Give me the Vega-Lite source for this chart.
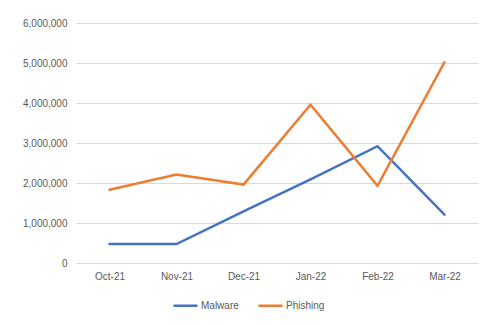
{
  "$schema": "https://vega.github.io/schema/vega-lite/v6.json",
  "autosize": "none",
  "width": 402,
  "height": 240,
  "padding": {"left": 76, "top": 23, "right": 2, "bottom": 62},
  "background": "white",
  "data": {
    "values": [
      {"month": "Oct-21", "series": "Malware", "value": 475000},
      {"month": "Nov-21", "series": "Malware", "value": 475000},
      {"month": "Dec-21", "series": "Malware", "value": 1290000},
      {"month": "Jan-22", "series": "Malware", "value": 2090000},
      {"month": "Feb-22", "series": "Malware", "value": 2920000},
      {"month": "Mar-22", "series": "Malware", "value": 1210000},
      {"month": "Oct-21", "series": "Phishing", "value": 1830000},
      {"month": "Nov-21", "series": "Phishing", "value": 2210000},
      {"month": "Dec-21", "series": "Phishing", "value": 1960000},
      {"month": "Jan-22", "series": "Phishing", "value": 3960000},
      {"month": "Feb-22", "series": "Phishing", "value": 1930000},
      {"month": "Mar-22", "series": "Phishing", "value": 5020000}
    ]
  },
  "mark": {"type": "line", "strokeWidth": 2.5, "strokeJoin": "miter", "strokeCap": "round"},
  "encoding": {
    "x": {
      "field": "month",
      "type": "ordinal",
      "sort": ["Oct-21", "Nov-21", "Dec-21", "Jan-22", "Feb-22", "Mar-22"],
      "scale": {"type": "point", "padding": 0.5},
      "axis": {
        "title": null,
        "labelAngle": 0,
        "ticks": false,
        "domain": false,
        "grid": false,
        "labelPadding": 8,
        "labelFont": "Liberation Sans",
        "labelFontSize": 10,
        "labelColor": "#595959"
      }
    },
    "y": {
      "field": "value",
      "type": "quantitative",
      "scale": {"domain": [0, 6000000], "nice": false},
      "axis": {
        "title": null,
        "values": [0, 1000000, 2000000, 3000000, 4000000, 5000000, 6000000],
        "format": ",d",
        "ticks": false,
        "domain": false,
        "gridColor": "#D9D9D9",
        "gridWidth": 1,
        "labelPadding": 9,
        "labelFont": "Liberation Sans",
        "labelFontSize": 10,
        "labelColor": "#595959"
      }
    },
    "color": {
      "field": "series",
      "type": "nominal",
      "scale": {"domain": ["Malware", "Phishing"], "range": ["#4472C4", "#ED7D31"]},
      "legend": {
        "title": null,
        "orient": "none",
        "direction": "horizontal",
        "legendX": 96,
        "legendY": 269,
        "symbolType": "stroke",
        "symbolSize": 576,
        "symbolStrokeWidth": 2.5,
        "labelFont": "Liberation Sans",
        "labelFontSize": 10,
        "labelColor": "#595959",
        "labelOffset": 2,
        "columnPadding": 14
      }
    }
  },
  "config": {"view": {"stroke": null}}
}
